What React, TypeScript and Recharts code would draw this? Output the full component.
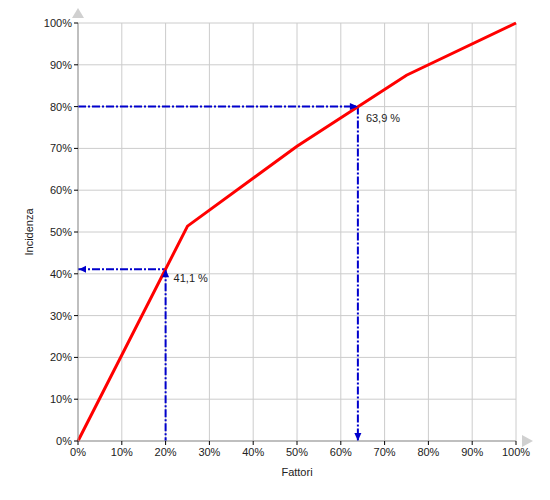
import { LineChart, Line, XAxis, YAxis, CartesianGrid, ReferenceLine, ReferenceDot, Label } from 'recharts';

// Pareto-like curve: Fattori (x) vs Incidenza (y), both in %
const fattori = [0, 25, 50, 75, 100];
const incidenza = [0, 51.4, 70.5, 87.5, 100];
const percentTicks = [0, 10, 20, 30, 40, 50, 60, 70, 80, 90, 100];

// read-off markers
const markFattori = [20, 63.9];
const markIncidenza = [41.1, 80];
const markLabels = ['41,1 %', '63,9 %'];

const data = fattori.map((x, i) => ({ x, y: incidenza[i] }));

const FONT = '"Liberation Sans", Arial, sans-serif';
const BLUE = '#0000cc';
const DASH = '8 2 2 2';

const tri = (pts: number[][], fill: string) => (
    <polygon points={pts.map(p => p.join(',')).join(' ')} fill={fill} />
);

const ArrowLeft = ({ cx, cy }: any) => tri([[cx + 1, cy], [cx + 8, cy - 3.5], [cx + 8, cy + 3.5]], BLUE);
const ArrowDown = ({ cx, cy }: any) => tri([[cx, cy], [cx - 3.5, cy - 8], [cx + 3.5, cy - 8]], BLUE);

const PointUp = (label: string) => ({ cx, cy }: any) => (
    <g>
        {tri([[cx, cy], [cx - 3.5, cy + 8], [cx + 3.5, cy + 8]], BLUE)}
        <text x={cx + 8} y={cy + 13} fontSize={11} fontFamily={FONT} fill="#222">{label}</text>
    </g>
);
const PointRight = (label: string) => ({ cx, cy }: any) => (
    <g>
        {tri([[cx, cy], [cx - 8, cy - 3.5], [cx - 8, cy + 3.5]], BLUE)}
        <text x={cx + 8} y={cy + 15} fontSize={11} fontFamily={FONT} fill="#222">{label}</text>
    </g>
);

const AxisArrowUp = ({ cx, cy }: any) => tri([[cx, cy - 15], [cx - 6, cy - 5], [cx + 6, cy - 5]], '#d0d0d0');
const AxisArrowRight = ({ cx, cy }: any) => tri([[cx + 17, cy], [cx + 6, cy - 6], [cx + 6, cy + 6]], '#d0d0d0');

export default function App() {
    const tickStyle = { fontSize: 11, fontFamily: FONT, fill: '#222' };
    return (
        <div style={{ position: 'absolute', left: 0, top: 0 }}>
            <LineChart
                width={550}
                height={500}
                data={data}
                margin={{ top: 23, right: 34, left: 20, bottom: 39 }}
            >
                <CartesianGrid stroke="#cccccc" vertical horizontal />
                <XAxis
                    dataKey="x"
                    type="number"
                    domain={[0, 100]}
                    ticks={percentTicks}
                    tickFormatter={(v) => `${v}%`}
                    tick={tickStyle}
                    tickSize={4}
                    tickMargin={3}
                    tickLine={{ stroke: '#000' }}
                    axisLine={{ stroke: '#999' }}
                    height={20}
                    interval={0}
                >
                    <Label
                        content={({ viewBox }: any) => (
                            <text x={viewBox.x + viewBox.width / 2} y={viewBox.y + 35} textAnchor="middle"
                                fontSize={11} fontFamily={FONT} fill="#222">Fattori</text>
                        )}
                    />
                </XAxis>
                <YAxis
                    type="number"
                    domain={[0, 100]}
                    ticks={percentTicks}
                    tickFormatter={(v) => `${v}%`}
                    tick={tickStyle}
                    tickSize={4}
                    tickMargin={2}
                    tickLine={{ stroke: '#000' }}
                    axisLine={{ stroke: '#999' }}
                    width={58}
                    interval={0}
                >
                    <Label
                        content={({ viewBox }: any) => {
                            const x = viewBox.x + 13;
                            const y = viewBox.y + viewBox.height / 2;
                            return (
                                <text x={x} y={y} textAnchor="middle" transform={`rotate(-90 ${x} ${y})`}
                                    fontSize={11} fontFamily={FONT} fill="#222">Incidenza</text>
                            );
                        }}
                    />
                </YAxis>

                {/* read-off guides */}
                <ReferenceLine segment={[{ x: 0, y: markIncidenza[0] }, { x: markFattori[0], y: markIncidenza[0] }]}
                    stroke={BLUE} strokeWidth={2} strokeDasharray={DASH} ifOverflow="visible" />
                <ReferenceLine segment={[{ x: markFattori[0], y: markIncidenza[0] }, { x: markFattori[0], y: 0 }]}
                    stroke={BLUE} strokeWidth={2} strokeDasharray={DASH} ifOverflow="visible" />
                <ReferenceLine segment={[{ x: 0, y: markIncidenza[1] }, { x: markFattori[1], y: markIncidenza[1] }]}
                    stroke={BLUE} strokeWidth={2} strokeDasharray={DASH} ifOverflow="visible" />
                <ReferenceLine segment={[{ x: markFattori[1], y: markIncidenza[1] }, { x: markFattori[1], y: 0 }]}
                    stroke={BLUE} strokeWidth={2} strokeDasharray={DASH} ifOverflow="visible" />

                <Line
                    type="linear"
                    dataKey="y"
                    stroke="#ff0000"
                    strokeWidth={3}
                    dot={false}
                    activeDot={false}
                    isAnimationActive={false}
                />

                <ReferenceDot x={0} y={markIncidenza[0]} ifOverflow="visible" shape={ArrowLeft} />
                <ReferenceDot x={markFattori[0]} y={markIncidenza[0]} ifOverflow="visible" shape={PointUp(markLabels[0])} />
                <ReferenceDot x={markFattori[1]} y={markIncidenza[1]} ifOverflow="visible" shape={PointRight(markLabels[1])} />
                <ReferenceDot x={markFattori[1]} y={0} ifOverflow="visible" shape={ArrowDown} />

                <ReferenceDot x={0} y={100} ifOverflow="visible" shape={AxisArrowUp} />
                <ReferenceDot x={100} y={0} ifOverflow="visible" shape={AxisArrowRight} />
            </LineChart>
        </div>
    );
}
